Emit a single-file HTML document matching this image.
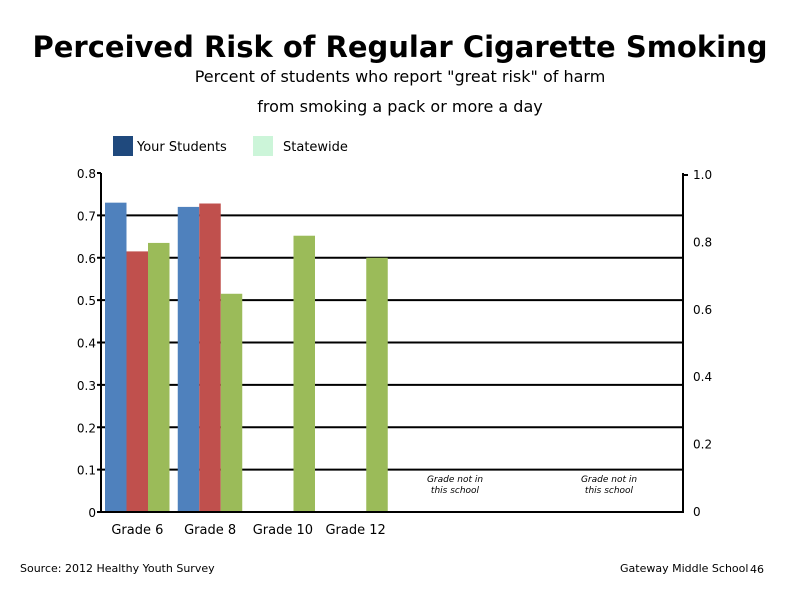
<!DOCTYPE html>
<html><head><meta charset="utf-8"><style>
body{margin:0;background:#fff;font-family:"Liberation Sans","DejaVu Sans",sans-serif}
svg text{font-family:"DejaVu Sans","Liberation Sans",sans-serif}
</style></head><body>
<svg width="800" height="600">
<text x="400" y="57" text-anchor="middle" font-size="29" font-weight="bold">Perceived Risk of Regular Cigarette Smoking</text>
<text x="400" y="82" text-anchor="middle" font-size="16">Percent of students who report "great risk" of harm</text>
<text x="400" y="112" text-anchor="middle" font-size="16">from smoking a pack or more a day</text>
<rect x="113" y="136" width="20" height="20" fill="#1F497D"/>
<text x="137" y="151" font-size="13">Your Students</text>
<rect x="253" y="136" width="20" height="20" fill="#CCF5D9"/>
<text x="283" y="151" font-size="13">Statewide</text>
<g id="plot"></g>
<text x="20" y="572" font-size="11">Source: 2012 Healthy Youth Survey</text>
<text x="620" y="572" font-size="11">Gateway Middle  School</text>
<text x="750" y="573" font-size="11">46</text>
</svg>
<script>
const categories=["Grade 6","Grade 8","Grade 10","Grade 12"];
const seriesBlue=[0.73,0.72,null,null];
const seriesRed=[0.615,0.728,null,null];
const seriesGreen=[0.635,0.515,0.652,0.60];
const leftTicks=[0,0.1,0.2,0.3,0.4,0.5,0.6,0.7,0.8];
const rightTicks=["0","0.2","0.4","0.6","0.8","1.0"];
const notInSchool=["Grade not in","this school"];
const NS="http://www.w3.org/2000/svg";
const g=document.getElementById('plot');
const X0=101,X1=683,Y0=512,Y1=173,slot=(X1-X0)/8;
const y=v=>Y0-(v/0.8)*(Y0-Y1);
function mk(t,a){const e=document.createElementNS(NS,t);for(const k in a)e.setAttribute(k,a[k]);g.appendChild(e);return e;}
leftTicks.forEach((v,i)=>{
 if(v>0&&v<0.8){const l=mk('line',{x1:X0,x2:X1,y1:y(v),y2:y(v),stroke:'#000','stroke-width':2});
 
 }
 const tk=mk('line',{x1:X0-4,x2:X0,y1:y(v),y2:y(v),stroke:'#000','stroke-width':2});
 
 
 const t=mk('text',{x:X0-5,y:y(v)+5,'text-anchor':'end','font-size':12});t.textContent=String(v);
 
 
});
rightTicks.forEach((s,i)=>{
 const yy=Y0-(parseFloat(s)/1.0)*(Y0-Y1-2)-1;
 const t=mk('text',{x:X1+10,y:yy+5,'font-size':12});t.textContent=s;
 
 
});
const bw=21.5;
const series=[[seriesBlue,'#4F81BD'],[seriesRed,'#C0504D'],[seriesGreen,'#9BBB59']];
categories.forEach((c,i)=>{
 const sx=X0+slot*i+4;
 series.forEach(([arr,col],j)=>{
  const v=arr[i]; if(v==null)return;
  const r=mk('rect',{x:sx+j*bw,y:y(v),width:bw,height:Y0-y(v),fill:col});
  
  
 });
 const t=mk('text',{x:X0+slot*(i+0.5),y:534,'text-anchor':'middle','font-size':13});t.textContent=c;
 
 
});
[455,609].forEach(cx=>{
 notInSchool.forEach((s,k)=>{
  const t=mk('text',{x:cx,y:482+k*11,'text-anchor':'middle','font-size':9,'font-style':'italic'});t.textContent=s;
  
  
 });
});
const ax=[[X0,Y1,X0,Y0+1],[X1,Y1,X1,Y0+1],[X0-4,Y0,X1,Y0],[X1,Y1+2,X1+5,Y1+2]];
ax.forEach(a=>{const l=mk('line',{x1:a[0],y1:a[1],x2:a[2],y2:a[3],stroke:'#000','stroke-width':2});
 
 });
</script>
</body></html>
